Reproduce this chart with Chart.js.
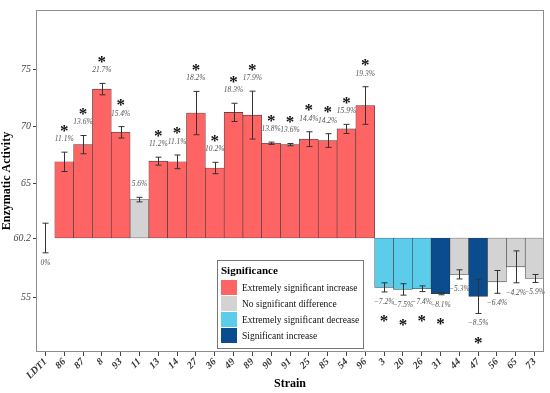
<!DOCTYPE html>
<html>
<head>
<meta charset="utf-8">
<script src="https://cdn.jsdelivr.net/npm/chart.js@4.4.1/dist/chart.umd.min.js"></script>
<style>
  html, body { margin: 0; padding: 0; background: #fff; }
  #wrap { width: 550px; height: 393px; position: relative; }
</style>
</head>
<body>
<div id="wrap"><canvas id="enzyme"></canvas></div>
<script>
// ---------------------------------------------------------------
// data
// ---------------------------------------------------------------
var strains = ["LDT1", "86", "87", "8", "93", "11", "13", "14", "27", "36", "49", "89", "90", "91",
    "25", "85", "54", "96", "3", "20", "26", "31", "44", "47", "56", "65", "73"];
var activity = [60.2, 66.88, 68.39, 73.26, 69.47, 63.57, 66.94, 66.88, 71.16, 66.34, 71.22, 70.98, 68.51, 68.39,
    68.87, 68.75, 69.77, 71.82, 55.87, 55.69, 55.75, 55.32, 57.01, 55.08, 56.35, 57.67, 56.65];
var errors = [1.3, 0.85, 0.8, 0.5, 0.5, 0.2, 0.35, 0.6, 1.9, 0.5, 0.8, 2.1, 0.1, 0.1,
    0.65, 0.6, 0.4, 1.65, 0.4, 0.5, 0.25, 0.1, 0.4, 1.5, 1.0, 1.4, 0.35];
var changes = ["0%", "11.1%", "13.6%", "21.7%", "15.4%", "5.6%", "11.2%", "11.1%", "18.2%", "10.2%", "18.3%", "17.9%", "13.8%", "13.6%",
    "14.4%", "14.2%", "15.9%", "19.3%", "\u22127.2%", "\u22127.5%", "\u22127.4%", "\u22128.1%", "\u22125.3%", "\u22128.5%", "\u22126.4%", "\u22124.2%", "\u22125.9%"];
// 0 extremely sig. increase, 1 no sig. difference, 2 extremely sig. decrease, 3 significant increase, -1 control
var groups = [-1, 0, 0, 0, 0, 1, 0, 0, 0, 0, 0, 0, 0, 0,
    0, 0, 0, 0, 2, 2, 2, 3, 1, 3, 1, 1, 1];
var stars = [0, 1, 1, 1, 1, 0, 1, 1, 1, 1, 1, 1, 1, 1,
    1, 1, 1, 1, 1, 1, 1, 1, 0, 1, 0, 0, 0];
var yTicks = [55, 60.2, 65, 70, 75];
var baseline = 60.2;

var groupNames = ["Extremely significant increase", "No significant difference",
    "Extremely significant decrease", "Significant increase"];
var groupColors = ["#FF6464", "#D3D3D3", "#5BCDEB", "#0A4C8E"];

var serif = "'Liberation Serif', 'Times New Roman', serif";

// ---------------------------------------------------------------
// plugins: error bars, labels, frame, legend
// ---------------------------------------------------------------
var extras = {
    id: "extras",
    afterDatasetsDraw: function (chart) {
        var ctx = chart.ctx;
        var y = chart.scales.y;
        var meta = chart.getDatasetMeta(0);
        var area = chart.chartArea;

        ctx.save();
        // error bars
        ctx.strokeStyle = "#333";
        ctx.lineWidth = 1;
        meta.data.forEach(function (bar, i) {
            var x = Math.round(bar.x) + 0.5;
            var t = y.getPixelForValue(activity[i] + errors[i]);
            var b = y.getPixelForValue(activity[i] - errors[i]);
            ctx.beginPath();
            ctx.moveTo(x, t); ctx.lineTo(x, b);
            ctx.moveTo(x - 3, t); ctx.lineTo(x + 3, t);
            ctx.moveTo(x - 3, b); ctx.lineTo(x + 3, b);
            ctx.stroke();
        });

        // percent labels and stars
        ctx.textAlign = "center";
        ctx.textBaseline = "middle";
        meta.data.forEach(function (bar, i) {
            var up = activity[i] > baseline;
            var ly, sy;
            if (up) {
                ly = y.getPixelForValue(activity[i] + errors[i]) - 13;
                sy = ly - 12;
            } else {
                ly = y.getPixelForValue(activity[i] - errors[i]) + 10;
                sy = ly + 16;
            }
            ctx.fillStyle = "#555";
            ctx.font = "italic 7.5px " + serif;
            ctx.fillText(changes[i], bar.x, ly);
            if (stars[i]) {
                ctx.fillStyle = "#111";
                ctx.font = "bold 17px " + serif;
                ctx.fillText("*", bar.x, sy + 4);
            }
        });

        // plot frame
        ctx.strokeStyle = "#8c8c8c";
        ctx.lineWidth = 1;
        ctx.strokeRect(area.left + 0.5, area.top + 0.5, area.right - area.left - 1, area.bottom - area.top - 1);

        // legend box
        var lx = 217, ly0 = 260, lw = 146, lh = 88;
        ctx.fillStyle = "#fff";
        ctx.fillRect(lx, ly0, lw, lh);
        ctx.strokeStyle = "#777";
        ctx.strokeRect(lx + 0.5, ly0 + 0.5, lw, lh);
        ctx.textAlign = "left";
        ctx.fillStyle = "#000";
        ctx.font = "bold 11px " + serif;
        ctx.fillText("Significance", lx + 4, ly0 + 11);
        ctx.font = "9.5px " + serif;
        groupNames.forEach(function (name, k) {
            var ry = ly0 + 20 + k * 16;
            ctx.fillStyle = groupColors[k];
            ctx.fillRect(lx + 4, ry, 16, 15);
            ctx.fillStyle = "#111";
            ctx.fillText(name, lx + 25, ry + 8);
        });
        ctx.restore();
    }
};

// ---------------------------------------------------------------
// chart
// ---------------------------------------------------------------
var bars = activity.map(function (v) { return [baseline, v]; });
var colors = groups.map(function (g) { return g < 0 ? "rgba(0,0,0,0)" : groupColors[g]; });

new Chart(document.getElementById("enzyme"), {
    type: "bar",
    data: {
        labels: strains,
        datasets: [{
            data: bars,
            backgroundColor: colors,
            borderColor: "#3a3a3a",
            borderWidth: 0.6,
            borderSkipped: false,
            categoryPercentage: 1,
            barPercentage: 1
        }]
    },
    options: {
        responsive: true,
        maintainAspectRatio: false,
        animation: false,
        layout: { padding: { top: 10, right: 6, left: 0, bottom: 0 } },
        plugins: {
            legend: { display: false },
            tooltip: { enabled: false }
        },
        scales: {
            x: {
                grid: { display: true, drawOnChartArea: false, offset: false, tickLength: 4, color: "#444" },
                border: { display: false },
                ticks: {
                    minRotation: 45, maxRotation: 45, padding: 0, autoSkip: false,
                    color: "#333",
                    font: { family: serif, size: 10, style: "italic", weight: "bold" }
                },
                title: {
                    display: true, text: "Strain", color: "#000", padding: { top: 0, bottom: 2 },
                    font: { family: serif, size: 12, weight: "bold" }
                },
                afterFit: function (s) { s.height = 41; }
            },
            y: {
                min: 50.2,
                max: 80.2,
                afterBuildTicks: function (s) {
                    s.ticks = yTicks.map(function (v) { return { value: v }; });
                },
                grid: { display: true, drawOnChartArea: false, tickLength: 3, color: "#444" },
                border: { display: false },
                ticks: {
                    color: "#444", padding: 2,
                    font: { family: serif, size: 10, style: "italic" },
                    callback: function (v) { return String(v); }
                },
                title: {
                    display: true, text: "Enzymatic Activity", color: "#000", padding: { top: 0, bottom: 2 },
                    font: { family: serif, size: 12, weight: "bold" }
                },
                afterFit: function (s) { s.width = 36; }
            }
        }
    },
    plugins: [extras]
});
</script>
</body>
</html>
